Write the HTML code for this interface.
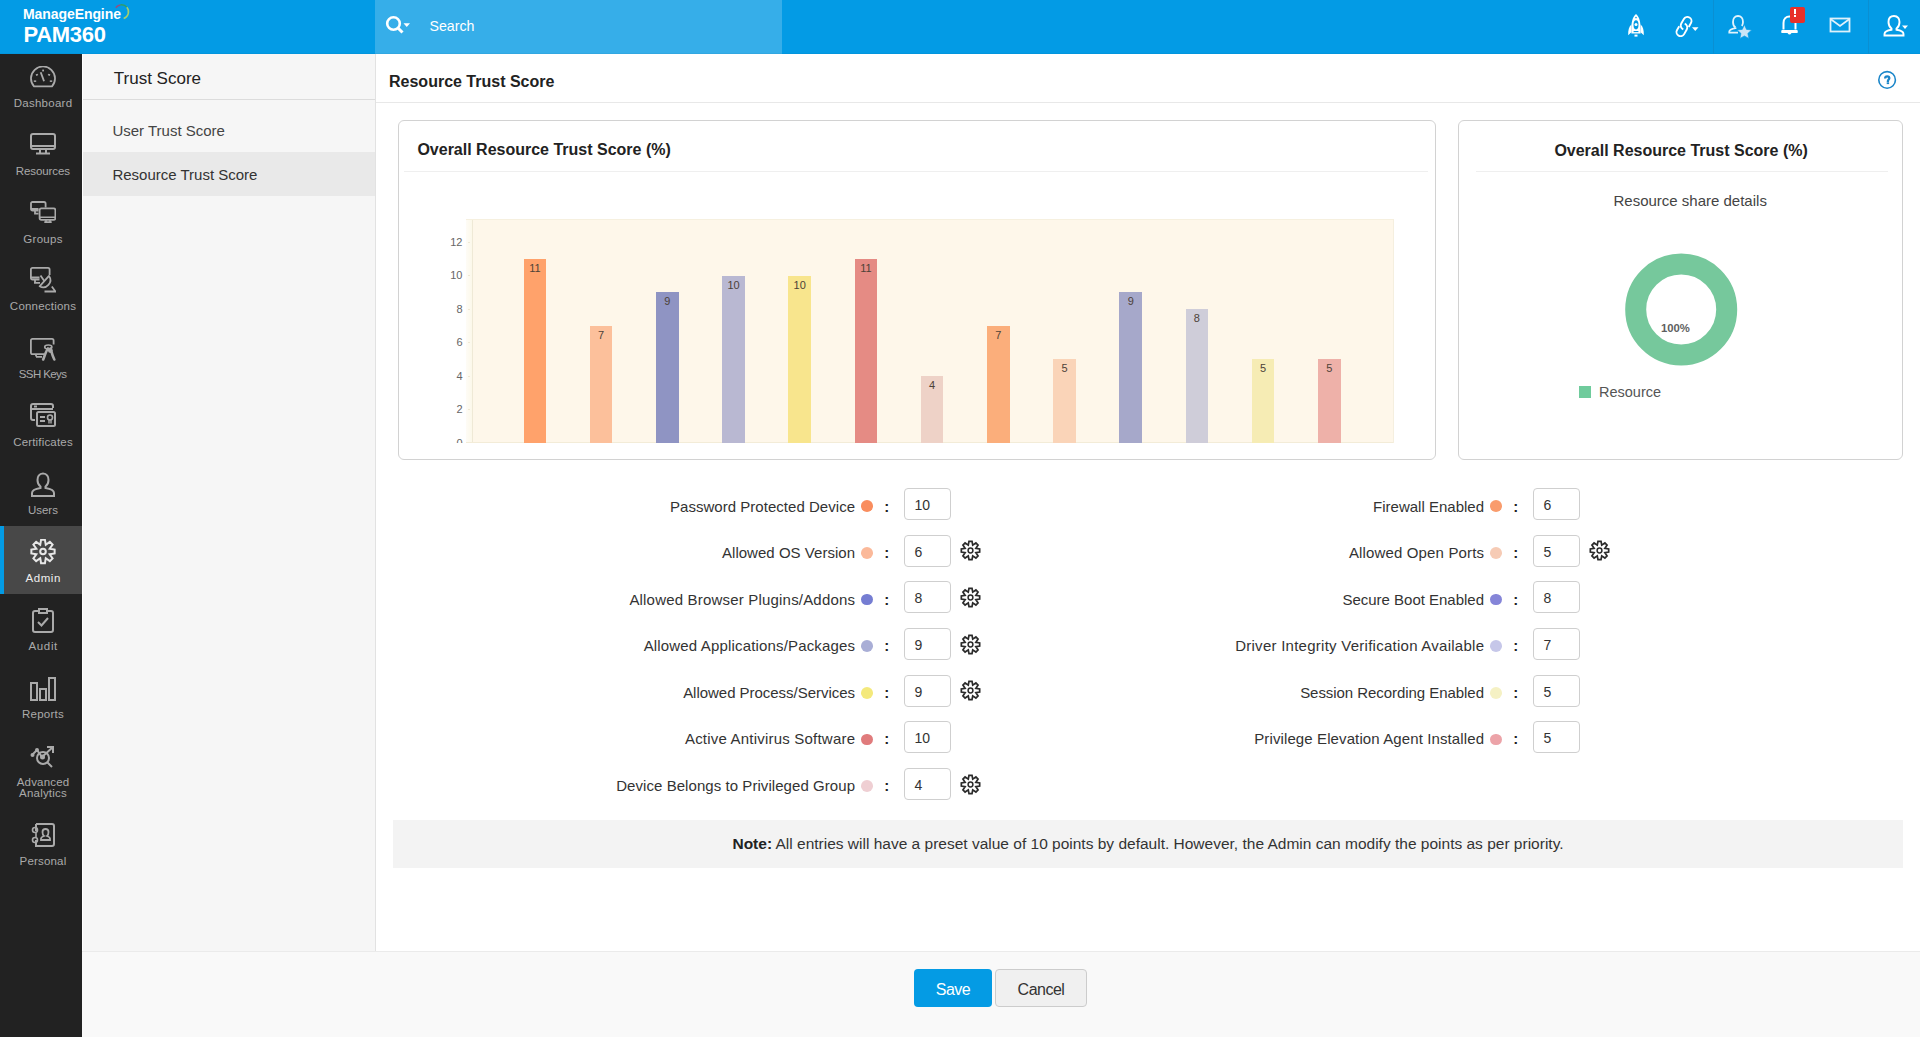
<!DOCTYPE html>
<html><head><meta charset="utf-8"><title>Resource Trust Score</title>
<style>
html,body{margin:0;padding:0;width:1920px;height:1037px;overflow:hidden;background:#fff;font-family:"Liberation Sans", sans-serif;}
.t{position:absolute;white-space:nowrap;line-height:1;}
svg{display:block}
</style></head><body>
<div style="position:absolute;left:0;top:0;width:1920px;height:54px;background:#039be5"></div>
<div style="position:absolute;left:375px;top:0;width:407px;height:54px;background:#36aee9"></div>
<div class="t" style="left:23px;top:6.20px;font-size:15px;color:#fff;font-weight:700;transform:scaleX(0.935);transform-origin:0 0;letter-spacing:-0.1px;">ManageEngine</div>
<div class="t" style="left:23.5px;top:23.98px;font-size:22px;color:#fff;font-weight:700;letter-spacing:-0.3px;">PAM360</div>
<svg style="position:absolute;left:110px;top:0px" width="24" height="24" viewBox="0 0 24 24"><path d="M5.77 7.78 A7.0 7.0 0 0 1 10.28 4.91" stroke="#9a4d7e" stroke-width="1.5" fill="none"/><path d="M10.28 4.91 A7.0 7.0 0 0 1 16.86 7.30" stroke="#2f9e6a" stroke-width="1.5" fill="none"/><path d="M16.86 7.30 A7.0 7.0 0 0 1 13.66 18.46" stroke="#a9cf6a" stroke-width="1.5" fill="none"/></svg>
<svg style="position:absolute;left:384px;top:13px" width="30" height="24" viewBox="0 0 30 24"><circle cx="9.5" cy="10.5" r="6.3" stroke="#fff" stroke-width="2.6" fill="none"/><path d="M14 15 L18.5 19.5" stroke="#fff" stroke-width="3" stroke-linecap="butt"/><path d="M19.5 10.2 L26 10.2 L22.75 14 Z" fill="#fff"/></svg>
<div class="t" style="left:429.5px;top:18.98px;font-size:14.2px;color:#fff;">Search</div>
<div style="position:absolute;left:0;top:53px;width:1920px;height:1px;background:rgba(0,60,110,0.06)"></div>
<div style="position:absolute;left:1713px;top:0;width:1px;height:54px;background:#0a8fd2"></div>
<div style="position:absolute;left:1868px;top:0;width:1px;height:54px;background:#0a8fd2"></div>
<svg style="position:absolute;left:1622px;top:10px" width="28" height="32" viewBox="0 0 28 32">
<path d="M14 4 C17.6 7 18.7 12 18.6 20 L18.6 23.6 L9.4 23.6 L9.4 20 C9.3 12 10.4 7 14 4 Z" fill="#fff"/>
<ellipse cx="14" cy="14.8" rx="2.5" ry="4.6" fill="#039be5"/>
<circle cx="14" cy="14.6" r="1.5" fill="#fff"/>
<circle cx="14" cy="7.6" r="0.8" fill="#039be5"/>
<rect x="11.6" y="21" width="4.8" height="1.1" fill="#039be5"/>
<path d="M9.4 14.5 C7 16.5 6 20 6.2 25.3 L9.4 22.2 Z M18.6 14.5 C21 16.5 22 20 21.8 25.3 L18.6 22.2 Z" fill="#fff"/>
<rect x="12.5" y="24.6" width="3" height="2" fill="#fff"/>
</svg>
<svg style="position:absolute;left:1670px;top:10px" width="34" height="32" viewBox="0 0 34 32">
<g transform="translate(16.1 13.3) rotate(30)"><path d="M4.1 1.8 L4.1 -2.6 A4.1 4.1 0 0 0 -4.1 -2.6 L-4.1 2.6 A4.1 4.1 0 0 0 0.6 6.65" fill="none" stroke="#fff" stroke-width="1.9"/></g>
<g transform="translate(11.9 19.8) rotate(210)"><path d="M4.1 1.8 L4.1 -2.6 A4.1 4.1 0 0 0 -4.1 -2.6 L-4.1 2.6 A4.1 4.1 0 0 0 0.6 6.65" fill="none" stroke="#fff" stroke-width="1.9"/></g>
<path d="M22 17.2 L28.5 17.2 L25.25 21 Z" fill="#fff"/>
</svg>
<svg style="position:absolute;left:1727px;top:13.7px" width="28" height="28" viewBox="0 0 28 28">
<path d="M8.5 13.6 C7 12.5 6 10.5 6 8 C6 4.5 8 2 11 2 C14 2 16 4.5 16 8 C16 9.6 15.6 10.9 14.9 11.9" fill="none" stroke="#e2f3fc" stroke-width="1.8"/>
<path d="M8.5 13.6 L8.5 14.2 C4.5 15 2.3 16 2.3 17.6 L2.3 18.6 L11 18.6" fill="none" stroke="#e2f3fc" stroke-width="1.8"/>
<path d="M17.40 10.70 L19.52 15.39 L24.63 15.95 L20.82 19.41 L21.87 24.45 L17.40 21.90 L12.93 24.45 L13.98 19.41 L10.17 15.95 L15.28 15.39 Z" fill="#cbe5f6" stroke="#039be5" stroke-width="0.6"/>
</svg>
<svg style="position:absolute;left:1780px;top:13px" width="20" height="24" viewBox="0 0 20 24">
<path d="M3.5 16.5 L3.5 10 C3.5 6 6 3.5 9.5 3.5 C13 3.5 15.5 6 15.5 10 L15.5 16.5 M1.5 19 L17.5 19" fill="none" stroke="#fff" stroke-width="2"/>
<path d="M1.5 17 L17.5 17 L17.5 19.5 L1.5 19.5 Z" fill="#fff"/>
<path d="M7.5 20 Q9.5 23 11.5 20" fill="#fff"/>
</svg>
<div style="position:absolute;left:1790px;top:7px;width:15px;height:16px;background:#e8302a;border-radius:2px"></div>
<div style="position:absolute;left:1793.8px;top:9.3px;width:2.4px;height:5px;background:#fff"></div><div style="position:absolute;left:1793.8px;top:15.3px;width:2.4px;height:2px;background:#fff"></div>
<svg style="position:absolute;left:1829px;top:17px" width="22" height="16" viewBox="0 0 22 16">
<rect x="1.5" y="1.5" width="19" height="13" fill="none" stroke="#dff1fb" stroke-width="1.8"/>
<path d="M1.5 2 L11 9 L20.5 2" fill="none" stroke="#dff1fb" stroke-width="1.8"/>
</svg>
<svg style="position:absolute;left:1882px;top:14px" width="28" height="24" viewBox="0 0 28 24">
<path d="M12 2 C8 2 6.5 5 6.5 8 C6.5 11 8 13.5 9.5 14.5 L9.5 15.8 C5 16.5 2.5 17.5 2.5 20 L2.5 21.5 L21.5 21.5 L21.5 20 C21.5 17.5 19 16.5 14.5 15.8 L14.5 14.5 C16 13.5 17.5 11 17.5 8 C17.5 5 16 2 12 2 Z" fill="none" stroke="#fff" stroke-width="1.9"/>
<path d="M20 11.5 L26 11.5 L23 15 Z" fill="#fff"/>
</svg>
<div style="position:absolute;left:0;top:54px;width:82px;height:983px;background:#222"></div>
<svg style="position:absolute;left:30px;top:66.30px" width="26" height="22" viewBox="0 0 26 22"><path d="M4 20.4 A12 12 0 1 1 22 20.4 Z" fill="none" stroke="#aaa" stroke-width="1.8" stroke-linejoin="round"/><path d="M9.8 6.6 L11.6 6 L14.9 14.9 L13.2 15.5 Z" fill="#aaa"/><rect x="12.2" y="3.6" width="1.8" height="1.8" fill="#aaa"/><path d="M5.6 8.6 l1.8 -0.9 l0.9 1.3 l-1.8 0.9 Z M20.4 8.6 l-1.8 -0.9 l-0.9 1.3 l1.8 0.9 Z" fill="#aaa"/><rect x="3.8" y="14.4" width="2.4" height="1.5" fill="#aaa"/><rect x="19.8" y="14.4" width="2.4" height="1.5" fill="#aaa"/></svg>
<div class="t" style="left:-456.973px;width:1000px;text-align:center;top:97.77px;font-size:11.5px;color:#aaa;letter-spacing:0.254px;">Dashboard</div>
<svg style="position:absolute;left:30px;top:132.77px" width="26" height="22" viewBox="0 0 26 22"><rect x="1" y="1" width="24" height="15" rx="2" fill="none" stroke="#aaa" stroke-width="2"/><path d="M1 13 H25" stroke="#aaa" stroke-width="2"/><path d="M10 16.5 V20 M16 16.5 V20 M6 20.5 H20" stroke="#aaa" stroke-width="2"/></svg>
<div class="t" style="left:-457.142px;width:1000px;text-align:center;top:165.64px;font-size:11.5px;color:#aaa;letter-spacing:-0.084px;">Resources</div>
<svg style="position:absolute;left:30px;top:200.64px" width="26" height="22" viewBox="0 0 26 22"><path d="M8.5 9.5 H2.6 C1.6 9.5 1 8.9 1 7.9 V2.6 C1 1.6 1.6 1 2.6 1 H14 C15 1 15.6 1.6 15.6 2.6 V6.6" fill="none" stroke="#aaa" stroke-width="1.8"/><path d="M1 8 H8.5 M5 10 V12.6 H8.5" stroke="#aaa" stroke-width="1.8" fill="none"/><rect x="9.6" y="7.4" width="15.8" height="11.4" rx="1.8" fill="none" stroke="#aaa" stroke-width="1.8"/><path d="M9.6 16.2 H25.4 M16 19 V20.5 M20 19 V20.5 M14.3 21.1 H21.7" stroke="#aaa" stroke-width="1.6"/></svg>
<div class="t" style="left:-456.962px;width:1000px;text-align:center;top:233.51px;font-size:11.5px;color:#aaa;letter-spacing:0.276px;">Groups</div>
<svg style="position:absolute;left:30px;top:267.01px" width="26" height="26" viewBox="0 0 26 26"><path d="M9.5 12.5 H2.5 C1.5 12.5 0.9 11.9 0.9 10.9 V2.5 C0.9 1.5 1.5 0.9 2.5 0.9 H18 C19 0.9 19.6 1.5 19.6 2.5 V8" fill="none" stroke="#aaa" stroke-width="1.8"/><path d="M0.9 10.5 H9.5 M5 13 V15.8 M4 15.8 H10" stroke="#aaa" stroke-width="1.8" fill="none"/><path d="M9.6 19.3 L19 8.9 A7.2 7.2 0 0 1 9.6 19.3 Z" fill="#222" stroke="#aaa" stroke-width="1.8" stroke-linejoin="round"/><path d="M14.3 14.1 L10.5 8.6" stroke="#aaa" stroke-width="1.8"/><path d="M14.5 24.5 H25.5 L21.8 19.5" fill="none" stroke="#aaa" stroke-width="1.8"/></svg>
<div class="t" style="left:-456.992px;width:1000px;text-align:center;top:301.38px;font-size:11.5px;color:#aaa;letter-spacing:0.216px;">Connections</div>
<svg style="position:absolute;left:30px;top:337.68px" width="26" height="24" viewBox="0 0 26 24"><path d="M14 16.2 H2.5 C1.5 16.2 0.9 15.6 0.9 14.6 V2.5 C0.9 1.5 1.5 0.9 2.5 0.9 H22 C23 0.9 23.6 1.5 23.6 2.5 V6.5" fill="none" stroke="#aaa" stroke-width="1.8"/><path d="M6 16.5 V18.5 M6 18.8 H12" stroke="#aaa" stroke-width="1.8" fill="none"/><ellipse cx="18.3" cy="9" rx="3.6" ry="2" fill="none" stroke="#aaa" stroke-width="1.6"/><path d="M18 10.5 C16 13 15 17 13.2 21.5 M20.5 10.5 C21.5 14 22.5 18 24.3 21.5" stroke="#aaa" stroke-width="2.6" fill="none" stroke-linecap="round"/><circle cx="20.3" cy="12.5" r="2.4" fill="#aaa"/></svg>
<div class="t" style="left:-457.3945px;width:1000px;text-align:center;top:369.25px;font-size:11.5px;color:#aaa;letter-spacing:-0.589px;">SSH Keys</div>
<svg style="position:absolute;left:30px;top:403.25px" width="26" height="26" viewBox="0 0 26 26"><path d="M5 17 H3 C2 17 1 16 1 15 V3 C1 2 2 1 3 1 H21 C22 1 23 2 23 3 V5" fill="none" stroke="#aaa" stroke-width="2"/><path d="M1 6 H23 M4 3.5 H7" stroke="#aaa" stroke-width="2"/><rect x="7" y="9" width="18" height="14" rx="1.5" fill="none" stroke="#aaa" stroke-width="2"/><path d="M10 14 H15 M10 18 H15" stroke="#aaa" stroke-width="2"/><circle cx="20" cy="14.5" r="2.5" fill="none" stroke="#aaa" stroke-width="1.6"/><path d="M19 17 V20.5 M21 17 V20.5" stroke="#aaa" stroke-width="1.4"/></svg>
<div class="t" style="left:-457.0105px;width:1000px;text-align:center;top:437.12px;font-size:11.5px;color:#aaa;letter-spacing:0.179px;">Certificates</div>
<svg style="position:absolute;left:30px;top:472.12px" width="26" height="26" viewBox="0 0 26 26"><path d="M13 1.5 C9 1.5 7.5 5 7.5 8 C7.5 11 9 13.5 10.5 14.5 L10.5 16 C5 16.8 2 18 2 21 L2 24 L24 24 L24 21 C24 18 21 16.8 15.5 16 L15.5 14.5 C17 13.5 18.5 11 18.5 8 C18.5 5 17 1.5 13 1.5 Z" fill="none" stroke="#aaa" stroke-width="2"/></svg>
<div class="t" style="left:-457.104px;width:1000px;text-align:center;top:504.99px;font-size:11.5px;color:#aaa;letter-spacing:-0.008px;">Users</div>
<div style="position:absolute;left:0;top:525.99px;width:82px;height:67.87px;background:#484848"></div>
<div style="position:absolute;left:0;top:525.99px;width:4px;height:67.87px;background:#039be5"></div>
<svg style="position:absolute;left:30px;top:538.99px" width="26" height="26" viewBox="0 0 26 26"><path d="M11.06 0.86 L14.94 0.86 L15.76 5.85 L19.86 2.90 L22.60 5.64 L19.65 9.74 L24.64 10.56 L24.64 14.44 L19.65 15.26 L22.60 19.36 L19.86 22.10 L15.76 19.15 L14.94 24.14 L11.06 24.14 L10.24 19.15 L6.14 22.10 L3.40 19.36 L6.35 15.26 L1.36 14.44 L1.36 10.56 L6.35 9.74 L3.40 5.64 L6.14 2.90 L10.24 5.85 Z" fill="none" stroke="#e8e8e8" stroke-width="2" stroke-linejoin="miter" stroke-miterlimit="3"/><circle cx="13" cy="12.5" r="2.8" fill="none" stroke="#e8e8e8" stroke-width="2"/></svg>
<div class="t" style="left:-456.826px;width:1000px;text-align:center;top:572.86px;font-size:11.5px;color:#eee;letter-spacing:0.548px;">Admin</div>
<svg style="position:absolute;left:31px;top:606.86px" width="24" height="26" viewBox="0 0 24 26"><path d="M8 4 H4 C3 4 2 5 2 6 V23 C2 24 3 25 4 25 H20 C21 25 22 24 22 23 V6 C22 5 21 4 20 4 H16" fill="none" stroke="#aaa" stroke-width="2"/><path d="M8 2 H16 V6 H8 Z" fill="none" stroke="#aaa" stroke-width="2"/><path d="M7 15 L10.5 18.5 L17 11" fill="none" stroke="#aaa" stroke-width="2"/></svg>
<div class="t" style="left:-456.79px;width:1000px;text-align:center;top:640.73px;font-size:11.5px;color:#aaa;letter-spacing:0.62px;">Audit</div>
<svg style="position:absolute;left:30px;top:676.73px" width="26" height="24" viewBox="0 0 26 24"><rect x="1" y="6" width="6" height="17" fill="none" stroke="#aaa" stroke-width="2"/><rect x="10" y="12" width="6" height="11" fill="none" stroke="#aaa" stroke-width="2"/><rect x="19" y="1" width="6" height="22" fill="none" stroke="#aaa" stroke-width="2"/></svg>
<div class="t" style="left:-456.96500000000003px;width:1000px;text-align:center;top:708.60px;font-size:11.5px;color:#aaa;letter-spacing:0.27px;">Reports</div>
<svg style="position:absolute;left:30px;top:744.60px" width="26" height="23" viewBox="0 0 26 23"><circle cx="13" cy="13" r="6" fill="none" stroke="#aaa" stroke-width="2"/><circle cx="12.5" cy="12" r="2.5" fill="#aaa"/><path d="M17.5 17.5 L22 22 M2 10 L7 5 L12 12 L23 2 M17 2 H23 V8" fill="none" stroke="#aaa" stroke-width="2"/><circle cx="2.5" cy="10" r="2" fill="#aaa"/><circle cx="7" cy="5" r="2" fill="#aaa"/></svg>
<div class="t" style="left:-457.011px;width:1000px;text-align:center;top:777.17px;font-size:11.5px;color:#aaa;letter-spacing:0.178px;">Advanced</div>
<div class="t" style="left:-457.002px;width:1000px;text-align:center;top:787.97px;font-size:11.5px;color:#aaa;letter-spacing:0.196px;">Analytics</div>
<svg style="position:absolute;left:31px;top:823.17px" width="24" height="24" viewBox="0 0 24 24"><path d="M5 1 H21 C22 1 23 2 23 3 V21 C23 22 22 23 21 23 H5 V17 M5 8 V1" fill="none" stroke="#aaa" stroke-width="2"/><circle cx="4" cy="7" r="2.5" fill="none" stroke="#aaa" stroke-width="1.6"/><circle cx="4" cy="17" r="2.5" fill="none" stroke="#aaa" stroke-width="1.6"/><path d="M5 9.5 V14.5" stroke="#aaa" stroke-width="1.6"/><path d="M10 17 V15.5 C10 14 12 13.5 13 13 C11.5 12 11.5 10 11.5 9 C11.5 7 13 6 14.5 6 C16 6 17.5 7 17.5 9 C17.5 10 17.5 12 16 13 C17 13.5 19 14 19 15.5 V17 Z" fill="none" stroke="#aaa" stroke-width="1.8"/></svg>
<div class="t" style="left:-457.0065px;width:1000px;text-align:center;top:856.04px;font-size:11.5px;color:#aaa;letter-spacing:0.187px;">Personal</div>
<div style="position:absolute;left:82px;top:54px;width:293px;height:897px;background:#f6f6f6;border-right:1px solid #e2e2e2"></div>
<div style="position:absolute;left:82px;top:54px;width:1px;height:897px;background:#fff"></div>
<div class="t" style="left:113.8px;top:69.61px;font-size:17px;color:#222;">Trust Score</div>
<div style="position:absolute;left:83px;top:99px;width:292px;height:1px;background:#dcdcdc"></div>
<div class="t" style="left:112.4px;top:123.30px;font-size:15px;color:#444;">User Trust Score</div>
<div style="position:absolute;left:83px;top:152px;width:292px;height:44px;background:#e9e9e9"></div>
<div class="t" style="left:112.4px;top:167.10px;font-size:15px;color:#333;">Resource Trust Score</div>
<div class="t" style="left:389px;top:73.56px;font-size:16px;color:#222;font-weight:700;">Resource Trust Score</div>
<div style="position:absolute;left:376px;top:102px;width:1544px;height:1px;background:#e8e8e8"></div>
<svg style="position:absolute;left:1877px;top:70px" width="20" height="20" viewBox="0 0 20 20"><circle cx="10.1" cy="9.9" r="8.3" fill="none" stroke="#1b86c9" stroke-width="1.6"/></svg>
<svg style="position:absolute;left:1877px;top:70px" width="20" height="20" viewBox="0 0 20 20"><path d="M8.1 8.6 C8.1 6.9 9 6.4 10.2 6.4 C11.5 6.4 12.3 7.1 12.3 8.2 C12.3 9.5 10.9 9.7 10.9 11.2 L10.9 12" fill="none" stroke="#1b86c9" stroke-width="2.3"/><rect x="9.7" y="12.3" width="2.4" height="1.8" fill="#1b86c9"/></svg>
<div style="position:absolute;left:398px;top:120px;width:1036px;height:338px;border:1px solid #d2d2d2;border-radius:6px;background:#fff"></div>
<div class="t" style="left:417.4px;top:141.96px;font-size:16px;color:#222;font-weight:700;">Overall Resource Trust Score (%)</div>
<div style="position:absolute;left:404px;top:171px;width:1024px;height:1px;background:#efefef"></div>
<div style="position:absolute;left:466px;top:219px;width:928px;height:224px;background:#fef7ea"></div>
<div style="position:absolute;left:466px;top:219px;width:6px;height:224px;background:linear-gradient(90deg,#fefcf6,#fcf8ea)"></div>
<div style="position:absolute;left:472px;top:219px;width:1px;height:224px;background:#efe9d6"></div>
<div style="position:absolute;left:466px;top:442px;width:928px;height:1px;background:#f3ecd8"></div>
<div style="position:absolute;left:466px;top:219px;width:928px;height:1px;background:#f6f0df"></div>
<div style="position:absolute;left:1393px;top:219px;width:1px;height:224px;background:#f5efdf"></div>
<div style="position:absolute;left:430px;top:200px;width:40px;height:243px;overflow:hidden">
<div style="position:absolute;left:38px;top:242.70px;width:4px;height:1px;background:#f0e9d5"></div><div class="t" style="right:7.5px;top:237.69px;font-size:11px;color:#666;">0</div>
<div style="position:absolute;left:38px;top:209.18px;width:4px;height:1px;background:#f0e9d5"></div><div class="t" style="right:7.5px;top:204.17px;font-size:11px;color:#666;">2</div>
<div style="position:absolute;left:38px;top:175.66px;width:4px;height:1px;background:#f0e9d5"></div><div class="t" style="right:7.5px;top:170.65px;font-size:11px;color:#666;">4</div>
<div style="position:absolute;left:38px;top:142.14px;width:4px;height:1px;background:#f0e9d5"></div><div class="t" style="right:7.5px;top:137.13px;font-size:11px;color:#666;">6</div>
<div style="position:absolute;left:38px;top:108.62px;width:4px;height:1px;background:#f0e9d5"></div><div class="t" style="right:7.5px;top:103.61px;font-size:11px;color:#666;">8</div>
<div style="position:absolute;left:38px;top:75.10px;width:4px;height:1px;background:#f0e9d5"></div><div class="t" style="right:7.5px;top:70.09px;font-size:11px;color:#666;">10</div>
<div style="position:absolute;left:38px;top:41.58px;width:4px;height:1px;background:#f0e9d5"></div><div class="t" style="right:7.5px;top:36.57px;font-size:11px;color:#666;">12</div>
</div>
<div style="position:absolute;left:523.60px;top:258.84px;width:22.6px;height:184.16px;background:#ffa26b"></div>
<div class="t" style="left:34.89999999999998px;width:1000px;text-align:center;top:262.93px;font-size:11px;color:#4d4238;">11</div>
<div style="position:absolute;left:589.80px;top:325.88px;width:22.6px;height:117.12px;background:#fcc09b"></div>
<div class="t" style="left:101.10000000000002px;width:1000px;text-align:center;top:329.97px;font-size:11px;color:#4d4238;">7</div>
<div style="position:absolute;left:656.00px;top:292.36px;width:22.6px;height:150.64px;background:#8f94c3"></div>
<div class="t" style="left:167.29999999999995px;width:1000px;text-align:center;top:296.45px;font-size:11px;color:#4d4238;">9</div>
<div style="position:absolute;left:722.20px;top:275.60px;width:22.6px;height:167.40px;background:#b9b8d2"></div>
<div class="t" style="left:233.5px;width:1000px;text-align:center;top:279.69px;font-size:11px;color:#4d4238;">10</div>
<div style="position:absolute;left:788.40px;top:275.60px;width:22.6px;height:167.40px;background:#f8e58d"></div>
<div class="t" style="left:299.70000000000005px;width:1000px;text-align:center;top:279.69px;font-size:11px;color:#4d4238;">10</div>
<div style="position:absolute;left:854.60px;top:258.84px;width:22.6px;height:184.16px;background:#e58b84"></div>
<div class="t" style="left:365.9px;width:1000px;text-align:center;top:262.93px;font-size:11px;color:#4d4238;">11</div>
<div style="position:absolute;left:920.80px;top:376.16px;width:22.6px;height:66.84px;background:#eed2c7"></div>
<div class="t" style="left:432.1px;width:1000px;text-align:center;top:380.25px;font-size:11px;color:#4d4238;">4</div>
<div style="position:absolute;left:987.00px;top:325.88px;width:22.6px;height:117.12px;background:#fbae7b"></div>
<div class="t" style="left:498.29999999999995px;width:1000px;text-align:center;top:329.97px;font-size:11px;color:#4d4238;">7</div>
<div style="position:absolute;left:1053.20px;top:359.40px;width:22.6px;height:83.60px;background:#fad4b8"></div>
<div class="t" style="left:564.5px;width:1000px;text-align:center;top:363.49px;font-size:11px;color:#4d4238;">5</div>
<div style="position:absolute;left:1119.40px;top:292.36px;width:22.6px;height:150.64px;background:#a6a8ca"></div>
<div class="t" style="left:630.7px;width:1000px;text-align:center;top:296.45px;font-size:11px;color:#4d4238;">9</div>
<div style="position:absolute;left:1185.60px;top:309.12px;width:22.6px;height:133.88px;background:#cfcdd9"></div>
<div class="t" style="left:696.8999999999999px;width:1000px;text-align:center;top:313.21px;font-size:11px;color:#4d4238;">8</div>
<div style="position:absolute;left:1251.80px;top:359.40px;width:22.6px;height:83.60px;background:#f6ecb4"></div>
<div class="t" style="left:763.1000000000001px;width:1000px;text-align:center;top:363.49px;font-size:11px;color:#4d4238;">5</div>
<div style="position:absolute;left:1318.00px;top:359.40px;width:22.6px;height:83.60px;background:#eeb1a9"></div>
<div class="t" style="left:829.3px;width:1000px;text-align:center;top:363.49px;font-size:11px;color:#4d4238;">5</div>
<div style="position:absolute;left:1458px;top:120px;width:443px;height:338px;border:1px solid #d2d2d2;border-radius:6px;background:#fff"></div>
<div class="t" style="left:1181.1px;width:1000px;text-align:center;top:142.66px;font-size:16px;color:#222;font-weight:700;">Overall Resource Trust Score (%)</div>
<div style="position:absolute;left:1476px;top:171px;width:412px;height:1px;background:#efefef"></div>
<div class="t" style="left:1190.2px;width:1000px;text-align:center;top:193.10px;font-size:15px;color:#444;">Resource share details</div>
<svg style="position:absolute;left:1621px;top:249px" width="121" height="121" viewBox="0 0 121 121"><circle cx="60.2" cy="60.5" r="45.5" fill="none" stroke="#76c89c" stroke-width="21"/></svg>
<div class="t" style="left:1661px;top:323.23px;font-size:11.3px;color:#5f5f5f;font-weight:700;">100%</div>
<div style="position:absolute;left:1579px;top:386px;width:12px;height:12px;background:#6fcb9c"></div>
<div class="t" style="left:1599px;top:385.43px;font-size:14.5px;color:#555;">Resource</div>
<div class="t" style="right:1064.967px;top:499.00px;font-size:15px;color:#333;letter-spacing:0.033px;">Password Protected Device</div>
<div style="position:absolute;left:861px;top:500.30px;width:12px;height:11.6px;border-radius:50%;background:#f98d5e"></div>
<div class="t" style="left:884.3px;top:499.00px;font-size:15px;color:#222;font-weight:700;">:</div>
<div style="position:absolute;left:904px;top:488.00px;width:45px;height:30px;border:1px solid #cfcfcf;border-radius:4px;background:#fff"></div>
<div class="t" style="left:914.5px;top:497.85px;font-size:14px;color:#333;">10</div>
<div class="t" style="right:1064.976px;top:545.45px;font-size:15px;color:#333;letter-spacing:0.024px;">Allowed OS Version</div>
<div style="position:absolute;left:861px;top:546.97px;width:12px;height:11.6px;border-radius:50%;background:#fbb99a"></div>
<div class="t" style="left:884.3px;top:545.45px;font-size:15px;color:#222;font-weight:700;">:</div>
<div style="position:absolute;left:904px;top:534.67px;width:45px;height:30px;border:1px solid #cfcfcf;border-radius:4px;background:#fff"></div>
<div class="t" style="left:914.5px;top:544.52px;font-size:14px;color:#333;">6</div>
<svg style="position:absolute;left:960px;top:540.27px" width="21" height="21" viewBox="0 0 21 21"><path d="M8.97 1.33 L12.03 1.33 L12.72 5.14 L15.91 2.93 L18.07 5.09 L15.86 8.28 L19.67 8.97 L19.67 12.03 L15.86 12.72 L18.07 15.91 L15.91 18.07 L12.72 15.86 L12.03 19.67 L8.97 19.67 L8.28 15.86 L5.09 18.07 L2.93 15.91 L5.14 12.72 L1.33 12.03 L1.33 8.97 L5.14 8.28 L2.93 5.09 L5.09 2.93 L8.28 5.14 Z" fill="none" stroke="#2b2b2b" stroke-width="1.7" stroke-linejoin="miter" stroke-miterlimit="3"/><circle cx="10.5" cy="10.5" r="2.4" fill="none" stroke="#2b2b2b" stroke-width="1.5"/></svg>
<div class="t" style="right:1064.81px;top:591.90px;font-size:15px;color:#333;letter-spacing:0.190px;">Allowed Browser Plugins/Addons</div>
<div style="position:absolute;left:861px;top:593.63px;width:12px;height:11.6px;border-radius:50%;background:#757dd2"></div>
<div class="t" style="left:884.3px;top:591.90px;font-size:15px;color:#222;font-weight:700;">:</div>
<div style="position:absolute;left:904px;top:581.33px;width:45px;height:30px;border:1px solid #cfcfcf;border-radius:4px;background:#fff"></div>
<div class="t" style="left:914.5px;top:591.18px;font-size:14px;color:#333;">8</div>
<svg style="position:absolute;left:960px;top:586.93px" width="21" height="21" viewBox="0 0 21 21"><path d="M8.97 1.33 L12.03 1.33 L12.72 5.14 L15.91 2.93 L18.07 5.09 L15.86 8.28 L19.67 8.97 L19.67 12.03 L15.86 12.72 L18.07 15.91 L15.91 18.07 L12.72 15.86 L12.03 19.67 L8.97 19.67 L8.28 15.86 L5.09 18.07 L2.93 15.91 L5.14 12.72 L1.33 12.03 L1.33 8.97 L5.14 8.28 L2.93 5.09 L5.09 2.93 L8.28 5.14 Z" fill="none" stroke="#2b2b2b" stroke-width="1.7" stroke-linejoin="miter" stroke-miterlimit="3"/><circle cx="10.5" cy="10.5" r="2.4" fill="none" stroke="#2b2b2b" stroke-width="1.5"/></svg>
<div class="t" style="right:1064.839px;top:638.35px;font-size:15px;color:#333;letter-spacing:0.161px;">Allowed Applications/Packages</div>
<div style="position:absolute;left:861px;top:640.30px;width:12px;height:11.6px;border-radius:50%;background:#a9aed6"></div>
<div class="t" style="left:884.3px;top:638.35px;font-size:15px;color:#222;font-weight:700;">:</div>
<div style="position:absolute;left:904px;top:628.00px;width:45px;height:30px;border:1px solid #cfcfcf;border-radius:4px;background:#fff"></div>
<div class="t" style="left:914.5px;top:637.85px;font-size:14px;color:#333;">9</div>
<svg style="position:absolute;left:960px;top:633.60px" width="21" height="21" viewBox="0 0 21 21"><path d="M8.97 1.33 L12.03 1.33 L12.72 5.14 L15.91 2.93 L18.07 5.09 L15.86 8.28 L19.67 8.97 L19.67 12.03 L15.86 12.72 L18.07 15.91 L15.91 18.07 L12.72 15.86 L12.03 19.67 L8.97 19.67 L8.28 15.86 L5.09 18.07 L2.93 15.91 L5.14 12.72 L1.33 12.03 L1.33 8.97 L5.14 8.28 L2.93 5.09 L5.09 2.93 L8.28 5.14 Z" fill="none" stroke="#2b2b2b" stroke-width="1.7" stroke-linejoin="miter" stroke-miterlimit="3"/><circle cx="10.5" cy="10.5" r="2.4" fill="none" stroke="#2b2b2b" stroke-width="1.5"/></svg>
<div class="t" style="right:1065.03px;top:684.80px;font-size:15px;color:#333;letter-spacing:-0.030px;">Allowed Process/Services</div>
<div style="position:absolute;left:861px;top:686.97px;width:12px;height:11.6px;border-radius:50%;background:#f4e97c"></div>
<div class="t" style="left:884.3px;top:684.80px;font-size:15px;color:#222;font-weight:700;">:</div>
<div style="position:absolute;left:904px;top:674.67px;width:45px;height:30px;border:1px solid #cfcfcf;border-radius:4px;background:#fff"></div>
<div class="t" style="left:914.5px;top:684.52px;font-size:14px;color:#333;">9</div>
<svg style="position:absolute;left:960px;top:680.27px" width="21" height="21" viewBox="0 0 21 21"><path d="M8.97 1.33 L12.03 1.33 L12.72 5.14 L15.91 2.93 L18.07 5.09 L15.86 8.28 L19.67 8.97 L19.67 12.03 L15.86 12.72 L18.07 15.91 L15.91 18.07 L12.72 15.86 L12.03 19.67 L8.97 19.67 L8.28 15.86 L5.09 18.07 L2.93 15.91 L5.14 12.72 L1.33 12.03 L1.33 8.97 L5.14 8.28 L2.93 5.09 L5.09 2.93 L8.28 5.14 Z" fill="none" stroke="#2b2b2b" stroke-width="1.7" stroke-linejoin="miter" stroke-miterlimit="3"/><circle cx="10.5" cy="10.5" r="2.4" fill="none" stroke="#2b2b2b" stroke-width="1.5"/></svg>
<div class="t" style="right:1064.792px;top:731.25px;font-size:15px;color:#333;letter-spacing:0.208px;">Active Antivirus Software</div>
<div style="position:absolute;left:861px;top:733.63px;width:12px;height:11.6px;border-radius:50%;background:#e07b7c"></div>
<div class="t" style="left:884.3px;top:731.25px;font-size:15px;color:#222;font-weight:700;">:</div>
<div style="position:absolute;left:904px;top:721.34px;width:45px;height:30px;border:1px solid #cfcfcf;border-radius:4px;background:#fff"></div>
<div class="t" style="left:914.5px;top:731.18px;font-size:14px;color:#333;">10</div>
<div class="t" style="right:1064.9389999999999px;top:777.70px;font-size:15px;color:#333;letter-spacing:0.061px;">Device Belongs to Privileged Group</div>
<div style="position:absolute;left:861px;top:780.30px;width:12px;height:11.6px;border-radius:50%;background:#efcfd3"></div>
<div class="t" style="left:884.3px;top:777.70px;font-size:15px;color:#222;font-weight:700;">:</div>
<div style="position:absolute;left:904px;top:768.00px;width:45px;height:30px;border:1px solid #cfcfcf;border-radius:4px;background:#fff"></div>
<div class="t" style="left:914.5px;top:777.85px;font-size:14px;color:#333;">4</div>
<svg style="position:absolute;left:960px;top:773.60px" width="21" height="21" viewBox="0 0 21 21"><path d="M8.97 1.33 L12.03 1.33 L12.72 5.14 L15.91 2.93 L18.07 5.09 L15.86 8.28 L19.67 8.97 L19.67 12.03 L15.86 12.72 L18.07 15.91 L15.91 18.07 L12.72 15.86 L12.03 19.67 L8.97 19.67 L8.28 15.86 L5.09 18.07 L2.93 15.91 L5.14 12.72 L1.33 12.03 L1.33 8.97 L5.14 8.28 L2.93 5.09 L5.09 2.93 L8.28 5.14 Z" fill="none" stroke="#2b2b2b" stroke-width="1.7" stroke-linejoin="miter" stroke-miterlimit="3"/><circle cx="10.5" cy="10.5" r="2.4" fill="none" stroke="#2b2b2b" stroke-width="1.5"/></svg>
<div class="t" style="right:436.0px;top:499.00px;font-size:15px;color:#333;letter-spacing:0.000px;">Firewall Enabled</div>
<div style="position:absolute;left:1490px;top:500.30px;width:12px;height:11.6px;border-radius:50%;background:#f99c6d"></div>
<div class="t" style="left:1513.3px;top:499.00px;font-size:15px;color:#222;font-weight:700;">:</div>
<div style="position:absolute;left:1533px;top:488.00px;width:45px;height:30px;border:1px solid #cfcfcf;border-radius:4px;background:#fff"></div>
<div class="t" style="left:1543.5px;top:497.85px;font-size:14px;color:#333;">6</div>
<div class="t" style="right:435.85300000000007px;top:545.45px;font-size:15px;color:#333;letter-spacing:0.147px;">Allowed Open Ports</div>
<div style="position:absolute;left:1490px;top:546.97px;width:12px;height:11.6px;border-radius:50%;background:#f6cbb5"></div>
<div class="t" style="left:1513.3px;top:545.45px;font-size:15px;color:#222;font-weight:700;">:</div>
<div style="position:absolute;left:1533px;top:534.67px;width:45px;height:30px;border:1px solid #cfcfcf;border-radius:4px;background:#fff"></div>
<div class="t" style="left:1543.5px;top:544.52px;font-size:14px;color:#333;">5</div>
<svg style="position:absolute;left:1589px;top:540.27px" width="21" height="21" viewBox="0 0 21 21"><path d="M8.97 1.33 L12.03 1.33 L12.72 5.14 L15.91 2.93 L18.07 5.09 L15.86 8.28 L19.67 8.97 L19.67 12.03 L15.86 12.72 L18.07 15.91 L15.91 18.07 L12.72 15.86 L12.03 19.67 L8.97 19.67 L8.28 15.86 L5.09 18.07 L2.93 15.91 L5.14 12.72 L1.33 12.03 L1.33 8.97 L5.14 8.28 L2.93 5.09 L5.09 2.93 L8.28 5.14 Z" fill="none" stroke="#2b2b2b" stroke-width="1.7" stroke-linejoin="miter" stroke-miterlimit="3"/><circle cx="10.5" cy="10.5" r="2.4" fill="none" stroke="#2b2b2b" stroke-width="1.5"/></svg>
<div class="t" style="right:436.01099999999997px;top:591.90px;font-size:15px;color:#333;letter-spacing:-0.011px;">Secure Boot Enabled</div>
<div style="position:absolute;left:1490px;top:593.63px;width:12px;height:11.6px;border-radius:50%;background:#8585d8"></div>
<div class="t" style="left:1513.3px;top:591.90px;font-size:15px;color:#222;font-weight:700;">:</div>
<div style="position:absolute;left:1533px;top:581.33px;width:45px;height:30px;border:1px solid #cfcfcf;border-radius:4px;background:#fff"></div>
<div class="t" style="left:1543.5px;top:591.18px;font-size:14px;color:#333;">8</div>
<div class="t" style="right:435.74199999999996px;top:638.35px;font-size:15px;color:#333;letter-spacing:0.258px;">Driver Integrity Verification Available</div>
<div style="position:absolute;left:1490px;top:640.30px;width:12px;height:11.6px;border-radius:50%;background:#c6c7e9"></div>
<div class="t" style="left:1513.3px;top:638.35px;font-size:15px;color:#222;font-weight:700;">:</div>
<div style="position:absolute;left:1533px;top:628.00px;width:45px;height:30px;border:1px solid #cfcfcf;border-radius:4px;background:#fff"></div>
<div class="t" style="left:1543.5px;top:637.85px;font-size:14px;color:#333;">7</div>
<div class="t" style="right:436.0540000000001px;top:684.80px;font-size:15px;color:#333;letter-spacing:-0.054px;">Session Recording Enabled</div>
<div style="position:absolute;left:1490px;top:686.97px;width:12px;height:11.6px;border-radius:50%;background:#f5f1c4"></div>
<div class="t" style="left:1513.3px;top:684.80px;font-size:15px;color:#222;font-weight:700;">:</div>
<div style="position:absolute;left:1533px;top:674.67px;width:45px;height:30px;border:1px solid #cfcfcf;border-radius:4px;background:#fff"></div>
<div class="t" style="left:1543.5px;top:684.52px;font-size:14px;color:#333;">5</div>
<div class="t" style="right:435.8879999999999px;top:731.25px;font-size:15px;color:#333;letter-spacing:0.112px;">Privilege Elevation Agent Installed</div>
<div style="position:absolute;left:1490px;top:733.63px;width:12px;height:11.6px;border-radius:50%;background:#eca3a8"></div>
<div class="t" style="left:1513.3px;top:731.25px;font-size:15px;color:#222;font-weight:700;">:</div>
<div style="position:absolute;left:1533px;top:721.34px;width:45px;height:30px;border:1px solid #cfcfcf;border-radius:4px;background:#fff"></div>
<div class="t" style="left:1543.5px;top:731.18px;font-size:14px;color:#333;">5</div>
<div style="position:absolute;left:393px;top:820px;width:1510px;height:48px;background:#f3f3f3"></div>
<div class="t" style="left:648px;width:1000px;text-align:center;top:836.28px;font-size:15.5px;color:#333;width:1510px;left:393px;"><b style="color:#222">Note:</b> All entries will have a preset value of 10 points by default. However, the Admin can modify the points as per priority.</div>
<div style="position:absolute;left:82px;top:951px;width:1838px;height:1px;background:#ebebeb"></div>
<div style="position:absolute;left:82px;top:952px;width:1838px;height:85px;background:#f9f9f9"></div>
<div style="position:absolute;left:914px;top:969px;width:78px;height:38px;background:#049be4;border-radius:4px"></div>
<div class="t" style="left:453px;width:1000px;text-align:center;top:981.66px;font-size:16px;color:#fff;letter-spacing:-0.5px;">Save</div>
<div style="position:absolute;left:995px;top:969px;width:90px;height:36px;background:#f0f0f0;border:1px solid #cccccc;border-radius:4px"></div>
<div class="t" style="left:541px;width:1000px;text-align:center;top:981.66px;font-size:16px;color:#333;letter-spacing:-0.5px;">Cancel</div>
</body></html>
